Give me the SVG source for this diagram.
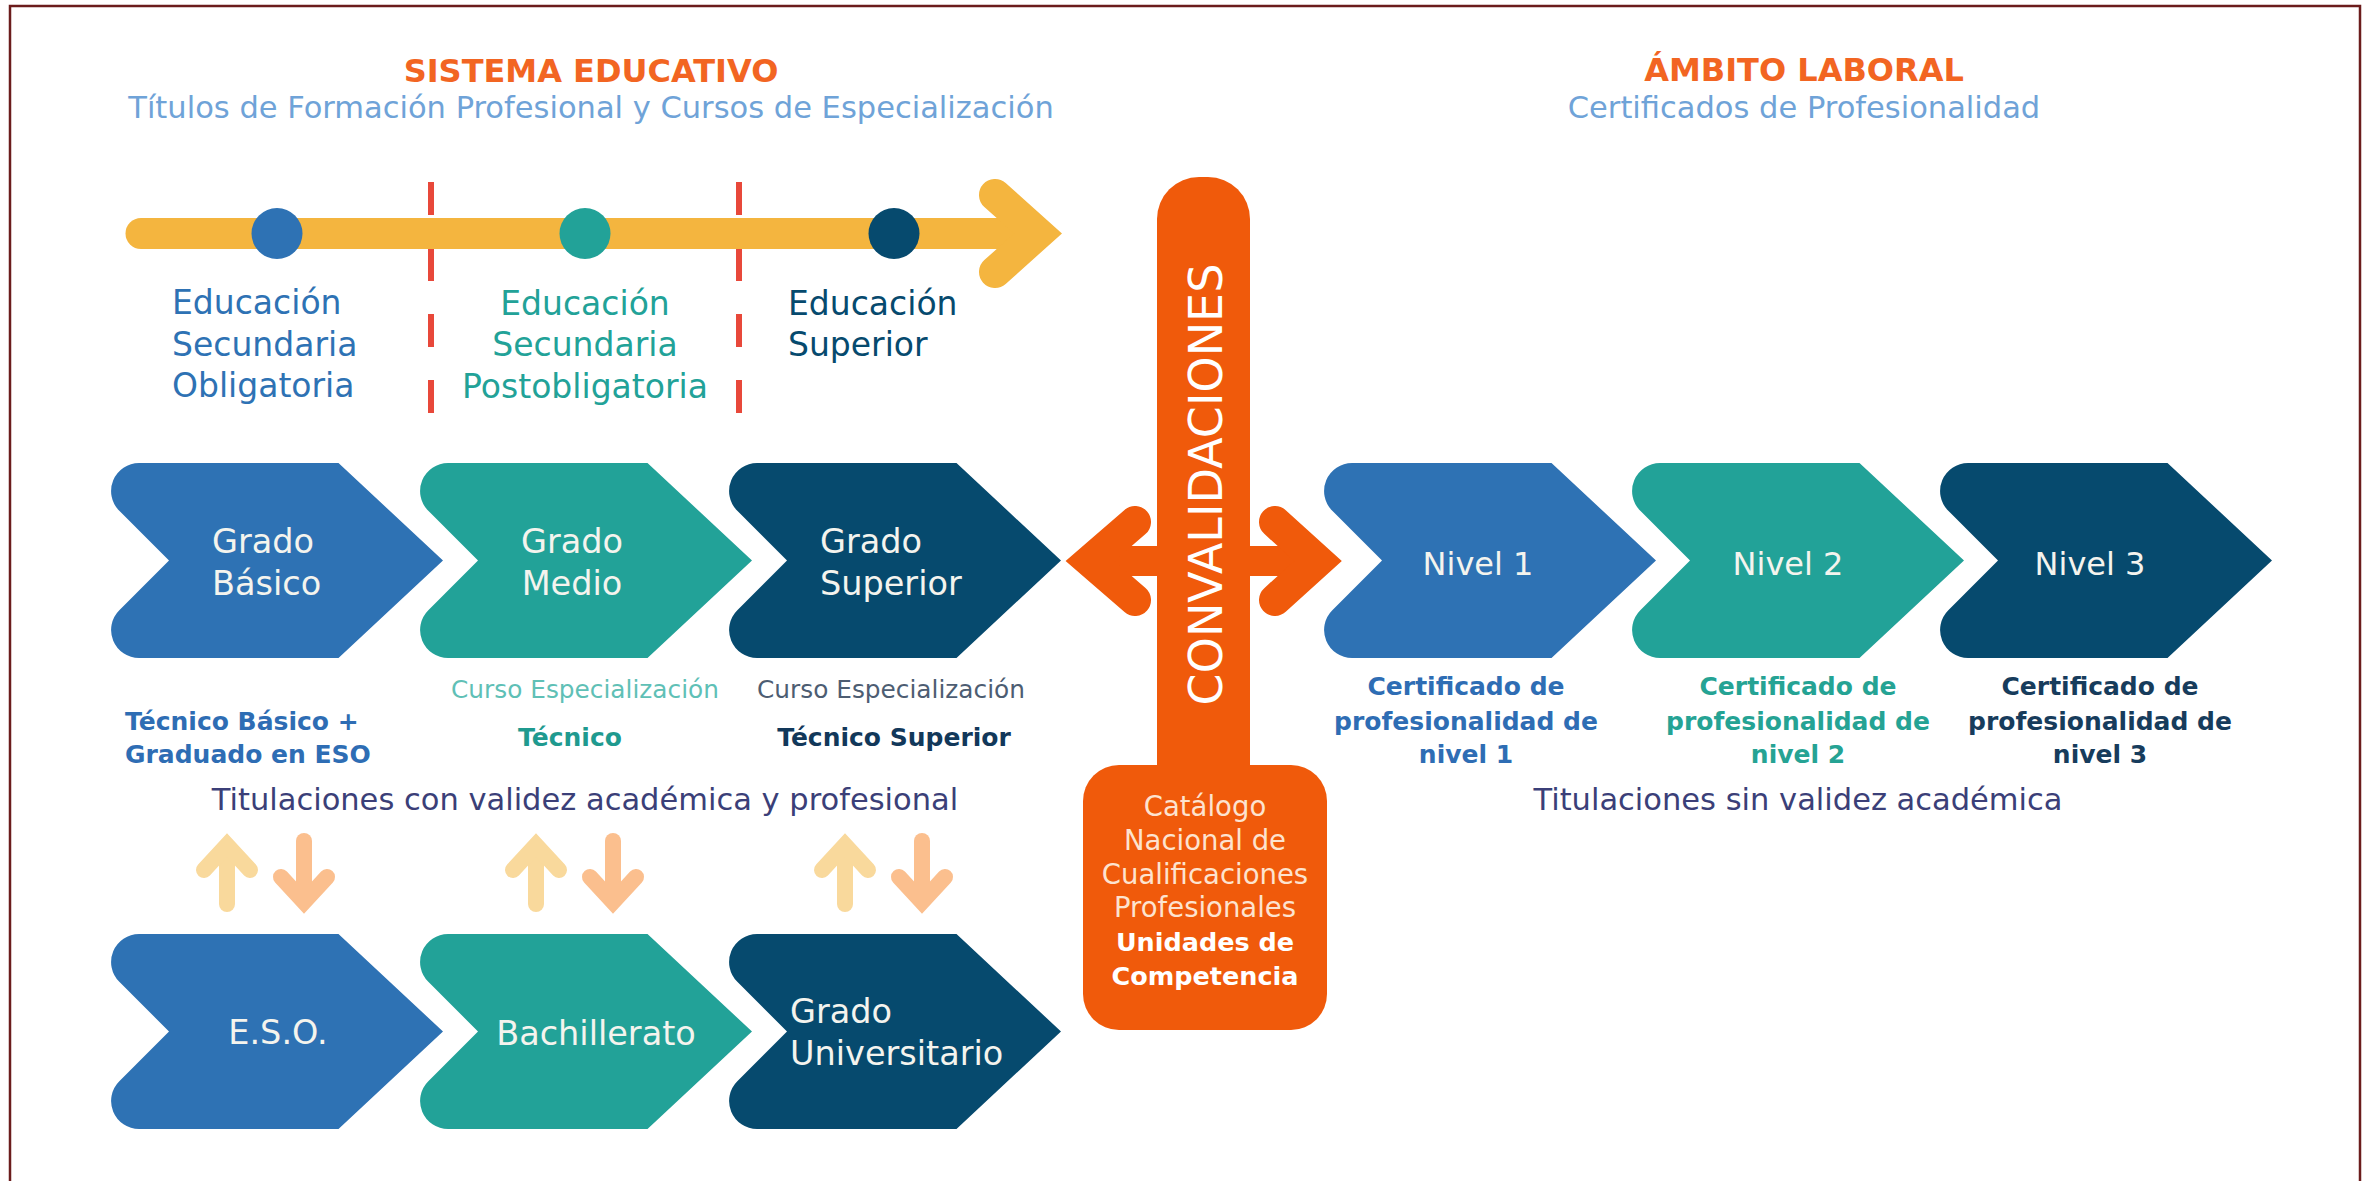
<svg xmlns="http://www.w3.org/2000/svg" width="2371" height="1181" viewBox="0 0 2371 1181">
<style>
  text { font-family: "DejaVu Sans", "Noto Sans", sans-serif; }
  .title { font-size: 32px; font-weight: bold; fill: #f26522; text-anchor: middle; }
  .sub { font-size: 30.5px; fill: #6fa3d8; text-anchor: middle; }
  .lbl { font-size: 33px; }
  .chv { font-size: 33.5px; fill: #f4f4ee; }
  .niv { font-size: 32px; fill: #f4f4ee; text-anchor: middle; }
  .bold { font-weight: bold; font-size: 25px; }
  .curso { font-size: 24.8px; text-anchor: middle; }
  .tit { font-size: 30.5px; fill: #3b3f78; text-anchor: middle; }
  .cat { font-size: 27.5px; fill: #fde3cf; text-anchor: middle; }
  .catb { font-size: 25.5px; font-weight: bold; fill: #ffffff; text-anchor: middle; }
  .blue { fill: #2e72b4; }
  .teal { fill: #22a298; }
  .navy { fill: #064a6e; }
  .up { stroke: #f9d99c; stroke-width: 16; fill: none; stroke-linecap: round; stroke-linejoin: miter; }
  .down { stroke: #fbbf8e; stroke-width: 16; fill: none; stroke-linecap: round; stroke-linejoin: miter; }
  .dash { stroke: #e8483a; stroke-width: 6; stroke-dasharray: 33 33; }
</style>
<defs>
  <path id="chev" d="M -29.9,0 L 169.5,0 L 274,97.5 L 169.5,195 L -29.9,195 A 28 28 0 0 1 -49.7,147.2 L 0,97.5 L -49.7,47.8 A 28 28 0 0 1 -29.9,0 Z"/>
  <g id="updown">
    <line class="up" x1="0" y1="904" x2="0" y2="850"/>
    <polyline class="up" points="-23,870 0,845 23,870"/>
    <line class="down" x1="77" y1="841" x2="77" y2="895"/>
    <polyline class="down" points="54,877 77,902 100,877"/>
  </g>
</defs>

<rect x="0" y="0" width="2371" height="1181" fill="#ffffff"/>
<path d="M10,1181 V6 H2360 V1181" fill="none" stroke="#6b1c1c" stroke-width="2.5"/>

<!-- headings -->
<g id="heading-left">
  <text class="title" x="591" y="82">SISTEMA EDUCATIVO</text>
  <text class="sub" x="591" y="118">Títulos de Formación Profesional y Cursos de Especialización</text>
</g>
<g id="heading-right">
  <text class="title" x="1804" y="81">ÁMBITO LABORAL</text>
  <text class="sub" x="1804" y="118">Certificados de Profesionalidad</text>
</g>

<!-- connectors -->
<g id="connectors">
  <g id="timeline">
    <line class="dash" x1="431" y1="182" x2="431" y2="416"/>
    <line class="dash" x1="739" y1="182" x2="739" y2="416"/>
    <line x1="141" y1="233.5" x2="1035" y2="233.5" stroke="#f4b53f" stroke-width="31" stroke-linecap="round"/>
    <polyline points="995,195 1038,233.5 995,272" fill="none" stroke="#f4b53f" stroke-width="32" stroke-linecap="round" stroke-linejoin="miter"/>
    <circle cx="277" cy="233.5" r="25.5" fill="#2e72b4"/>
    <circle cx="585" cy="233.5" r="25.5" fill="#22a298"/>
    <circle cx="894" cy="233.5" r="25.5" fill="#064a6e"/>
  </g>
  <g id="convalidaciones-arrows" fill="none" stroke="#f05a0b" stroke-linecap="round" stroke-linejoin="miter">
    <line x1="1092" y1="561" x2="1316" y2="561" stroke-width="30" stroke-linecap="butt"/>
    <polyline points="1135,522 1090,561 1135,600" stroke-width="32"/>
    <polyline points="1275,522 1318,561 1275,600" stroke-width="32"/>
  </g>
  <g id="updown-arrows">
    <use href="#updown" transform="translate(227,0)"/>
    <use href="#updown" transform="translate(536,0)"/>
    <use href="#updown" transform="translate(845,0)"/>
  </g>
</g>

<!-- timeline labels -->
<g id="label-eso-level">
  <text class="lbl blue" x="172" y="314">Educación</text>
  <text class="lbl blue" x="172" y="356">Secundaria</text>
  <text class="lbl blue" x="172" y="397">Obligatoria</text>
</g>
<g id="label-post-level" text-anchor="middle">
  <text class="lbl teal" x="585" y="315">Educación</text>
  <text class="lbl teal" x="585" y="356">Secundaria</text>
  <text class="lbl teal" x="585" y="398">Postobligatoria</text>
</g>
<g id="label-sup-level">
  <text class="lbl navy" x="788" y="315">Educación</text>
  <text class="lbl navy" x="788" y="356">Superior</text>
</g>

<!-- top row chevrons -->
<g id="grado-basico">
  <use href="#chev" x="169" y="463" fill="#2e72b4"/>
  <text class="chv" x="212" y="553">Grado</text>
  <text class="chv" x="212" y="595">Básico</text>
</g>
<g id="grado-medio">
  <use href="#chev" x="478" y="463" fill="#22a298"/>
  <text class="chv" x="572" y="553" text-anchor="middle">Grado</text>
  <text class="chv" x="572" y="595" text-anchor="middle">Medio</text>
</g>
<g id="grado-superior">
  <use href="#chev" x="787" y="463" fill="#064a6e"/>
  <text class="chv" x="820" y="553">Grado</text>
  <text class="chv" x="820" y="595">Superior</text>
</g>

<g id="nivel-1">
  <use href="#chev" x="1382" y="463" fill="#2e72b4"/>
  <text class="niv" x="1478" y="575">Nivel 1</text>
</g>
<g id="nivel-2">
  <use href="#chev" x="1690" y="463" fill="#22a298"/>
  <text class="niv" x="1788" y="575">Nivel 2</text>
</g>
<g id="nivel-3">
  <use href="#chev" x="1998" y="463" fill="#064a6e"/>
  <text class="niv" x="2090" y="575">Nivel 3</text>
</g>

<!-- labels under top row -->
<g id="label-tecnico-basico">
  <text class="bold" x="125" y="730" fill="#2e6db4">Técnico Básico +</text>
  <text class="bold" x="125" y="763" fill="#2e6db4">Graduado en ESO</text>
</g>
<g id="label-tecnico">
  <text class="curso" x="585" y="698" fill="#5fc0b6">Curso Especialización</text>
  <text class="bold" x="570" y="746" fill="#1f9a8f" text-anchor="middle">Técnico</text>
</g>
<g id="label-tecnico-superior">
  <text class="curso" x="891" y="698" fill="#4d5d72">Curso Especialización</text>
  <text class="bold" x="894" y="746" fill="#12385a" text-anchor="middle">Técnico Superior</text>
</g>
<g id="label-cert-1" text-anchor="middle">
  <text class="bold" x="1466" y="695" fill="#2e6db4">Certificado de</text>
  <text class="bold" x="1466" y="730" fill="#2e6db4">profesionalidad de</text>
  <text class="bold" x="1466" y="763" fill="#2e6db4">nivel 1</text>
</g>
<g id="label-cert-2" text-anchor="middle">
  <text class="bold" x="1798" y="695" fill="#25a394">Certificado de</text>
  <text class="bold" x="1798" y="730" fill="#25a394">profesionalidad de</text>
  <text class="bold" x="1798" y="763" fill="#25a394">nivel 2</text>
</g>
<g id="label-cert-3" text-anchor="middle">
  <text class="bold" x="2100" y="695" fill="#173c5c">Certificado de</text>
  <text class="bold" x="2100" y="730" fill="#173c5c">profesionalidad de</text>
  <text class="bold" x="2100" y="763" fill="#173c5c">nivel 3</text>
</g>
<g id="label-titulaciones">
  <text class="tit" x="585" y="810">Titulaciones con validez académica y profesional</text>
  <text class="tit" x="1798" y="810">Titulaciones sin validez académica</text>
</g>

<!-- convalidaciones -->
<g id="convalidaciones">
  <rect x="1157" y="177" width="93" height="650" rx="42" fill="#f05a0b"/>
  <text transform="translate(1222,484.5) rotate(-90)" x="0" y="0" text-anchor="middle" font-size="46" fill="#ffffff">CONVALIDACIONES</text>
</g>
<g id="catalogo">
  <rect x="1083" y="765" width="244" height="265" rx="36" fill="#f05a0b"/>
  <text class="cat" x="1205" y="816">Catálogo</text>
  <text class="cat" x="1205" y="850">Nacional de</text>
  <text class="cat" x="1205" y="884">Cualificaciones</text>
  <text class="cat" x="1205" y="917">Profesionales</text>
  <text class="catb" x="1205" y="951">Unidades de</text>
  <text class="catb" x="1205" y="985">Competencia</text>
</g>

<!-- bottom row chevrons -->
<g id="eso">
  <use href="#chev" x="169" y="934" fill="#2e72b4"/>
  <text class="chv" x="278" y="1044" text-anchor="middle">E.S.O.</text>
</g>
<g id="bachillerato">
  <use href="#chev" x="478" y="934" fill="#22a298"/>
  <text class="chv" x="596" y="1045" text-anchor="middle">Bachillerato</text>
</g>
<g id="grado-universitario">
  <use href="#chev" x="787" y="934" fill="#064a6e"/>
  <text class="chv" x="790" y="1023">Grado</text>
  <text class="chv" x="790" y="1065">Universitario</text>
</g>
</svg>
